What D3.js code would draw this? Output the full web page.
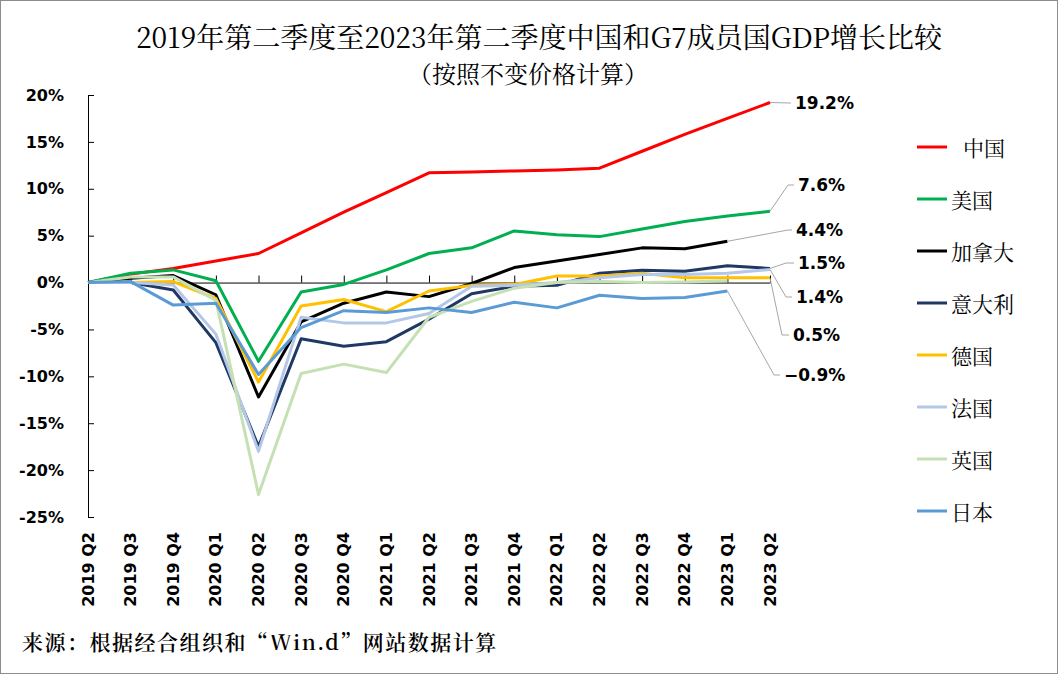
<!DOCTYPE html>
<html>
<head>
<meta charset="utf-8">
<script src="https://cdn.jsdelivr.net/npm/d3@7"></script>
<style>
  body { margin: 0; background: #fff; }
  svg { display: block; }
</style>
</head>
<body>
<svg id="chart" width="1058" height="674"></svg>
<script>
// quarters on the x axis
const quarters = ["2019 Q2", "2019 Q3", "2019 Q4", "2020 Q1", "2020 Q2", "2020 Q3", "2020 Q4",
  "2021 Q1", "2021 Q2", "2021 Q3", "2021 Q4", "2022 Q1", "2022 Q2", "2022 Q3", "2022 Q4",
  "2023 Q1", "2023 Q2"];

// cumulative GDP growth vs 2019 Q2 (%)
const china   = [0, 0.9, 1.5, 2.3, 3.1, 5.3, 7.5, 9.6, 11.7, 11.8, 11.9, 12.0, 12.2, 14.0, 15.8, 17.5, 19.2];
const usa     = [0, 1.0, 1.35, 0.2, -8.4, -1.0, -0.2, 1.35, 3.1, 3.7, 5.5, 5.1, 4.9, 5.7, 6.5, 7.1, 7.6];
const canada  = [0, 0.45, 0.75, -1.3, -12.2, -4.2, -2.2, -1.0, -1.5, -0.1, 1.6, 2.3, 3.0, 3.7, 3.6, 4.4, null];
const italy   = [0, 0, -0.8, -6.4, -17.5, -6.0, -6.8, -6.3, -3.9, -1.2, -0.4, -0.3, 1.0, 1.3, 1.2, 1.8, 1.5];
const germany = [0, 0, 0.1, -1.7, -10.6, -2.5, -1.8, -3.1, -0.9, -0.3, -0.2, 0.7, 0.7, 1.0, 0.5, 0.5, 0.5];
const france  = [0, 0, -0.25, -5.5, -18.0, -3.7, -4.3, -4.3, -3.3, -0.4, -0.3, 0, 0.5, 0.85, 0.85, 1.0, 1.4];
const uk      = [0, 0.6, 0.6, -1.9, -22.6, -9.7, -8.7, -9.6, -3.7, -2.0, -0.6, 0, 0.1, 0, 0.05, 0.2, null];
const japan   = [0, 0.1, -2.4, -2.2, -9.8, -4.8, -3.0, -3.2, -2.7, -3.2, -2.1, -2.7, -1.35, -1.7, -1.6, -0.9, null];

const names  = ["中国", "美国", "加拿大", "意大利", "德国", "法国", "英国", "日本"];
const values = [china, usa, canada, italy, germany, france, uk, japan];
const colors = ["#ff0000", "#00b050", "#000000", "#203864", "#ffc000", "#b4c7e7", "#c5e0b4", "#5b9bd5"];

const yTicks = [-25, -20, -15, -10, -5, 0, 5, 10, 15, 20];

const svg = d3.select("#chart");
const W = 1058, H = 674;

svg.append("rect")
  .attr("x", 0.5).attr("y", 0.5)
  .attr("width", W - 1).attr("height", H - 1)
  .attr("fill", "#fff").attr("stroke", "#8c8c8c");

const x = d3.scalePoint().domain(quarters).range([88, 770]);
const y = d3.scaleLinear().domain([-25, 20]).range([517, 95]);

const cjk = "'Noto Serif CJK SC', 'Noto Sans CJK SC', serif";
const latin = "'DejaVu Sans', Verdana, sans-serif";

// title
svg.append("text")
  .attr("x", 539).attr("y", 36)
  .attr("text-anchor", "middle").attr("dominant-baseline", "central")
  .style("font-family", cjk).style("font-size", "28px").style("fill", "#000")
  .text("2019年第二季度至2023年第二季度中国和G7成员国GDP增长比较");
svg.append("text")
  .attr("x", 528).attr("y", 72)
  .attr("text-anchor", "middle").attr("dominant-baseline", "central")
  .style("font-family", cjk).style("font-size", "24px").style("fill", "#000")
  .text("（按照不变价格计算）");

// y axis
const yAxis = svg.append("g")
  .attr("transform", `translate(${x.range()[0]},0)`)
  .call(d3.axisLeft(y).tickValues(yTicks).tickSizeInner(-6).tickSizeOuter(0)
    .tickPadding(24).tickFormat(d => d + "%"));
yAxis.select(".domain").attr("stroke", "#000");
yAxis.selectAll(".tick line").attr("stroke", "#000");
yAxis.selectAll("text")
  .style("font-family", latin).style("font-size", "16px").style("font-weight", "bold")
  .attr("fill", "#000");

// x axis along 0%
const xAxis = svg.append("g")
  .attr("transform", `translate(0,${y(0)})`)
  .call(d3.axisBottom(x).tickSizeInner(-7).tickSizeOuter(0).tickFormat(""));
xAxis.select(".domain").attr("stroke", "#000");
xAxis.selectAll(".tick line").attr("stroke", "#000");

svg.append("g").selectAll("text")
  .data(quarters).join("text")
  .attr("transform", d => `translate(${x(d)},532) rotate(-90)`)
  .attr("text-anchor", "end").attr("dominant-baseline", "central")
  .style("font-family", latin).style("font-size", "16px").style("font-weight", "bold")
  .text(d => d);

// series lines
const line = d3.line()
  .defined(d => d != null)
  .x((d, i) => x(quarters[i]))
  .y(d => y(d));

svg.append("g").selectAll("path")
  .data(values).join("path")
  .attr("d", line)
  .attr("fill", "none")
  .attr("stroke", (d, i) => colors[i])
  .attr("stroke-width", 3)
  .attr("stroke-linejoin", "round");

// end-value labels with leader lines: [series index, elbow x, label y, text x]
const callouts = [
  [0, 790, 103, 795],
  [1, 788, 185, 798],
  [2, 788, 230, 796],
  [3, 786, 263, 798],
  [5, 786, 297, 796],
  [4, 782, 335, 793],
  [7, 774, 375, 784]
];
const lastIdx = s => { let k = s.length - 1; while (s[k] == null) k--; return k; };

const co = svg.append("g");
callouts.forEach(([si, ex, ly, tx]) => {
  const s = values[si], k = lastIdx(s);
  const px = x(quarters[k]), py = y(s[k]);
  co.append("polyline")
    .attr("points", `${px},${py} ${ex},${ly} ${tx - 4},${ly}`)
    .attr("fill", "none").attr("stroke", "#a6a6a6").attr("stroke-width", 1);
  co.append("text")
    .attr("x", tx).attr("y", ly)
    .attr("dominant-baseline", "central")
    .style("font-family", latin).style("font-size", "17px").style("font-weight", "bold")
    .text(d3.format(".1f")(s[k]) + "%");
});

// legend
const lg = svg.append("g").selectAll("g")
  .data(names).join("g")
  .attr("transform", (d, i) => `translate(917,${147 + i * 52})`);
lg.append("line")
  .attr("x1", 0).attr("x2", 30)
  .attr("stroke", (d, i) => colors[i]).attr("stroke-width", 3);
lg.append("text")
  .attr("x", (d, i) => i === 0 ? 46 : 34).attr("y", 0)
  .attr("dominant-baseline", "central")
  .style("font-family", cjk).style("font-size", "21px")
  .text(d => d);

// source note
svg.append("text")
  .attr("x", 22).attr("y", 641)
  .attr("dominant-baseline", "central")
  .style("font-family", cjk).style("font-size", "21px").style("font-weight", "600")
  .style("letter-spacing", "1.5px")
  .text("来源：根据经合组织和“Win.d”网站数据计算");
</script>
</body>
</html>
